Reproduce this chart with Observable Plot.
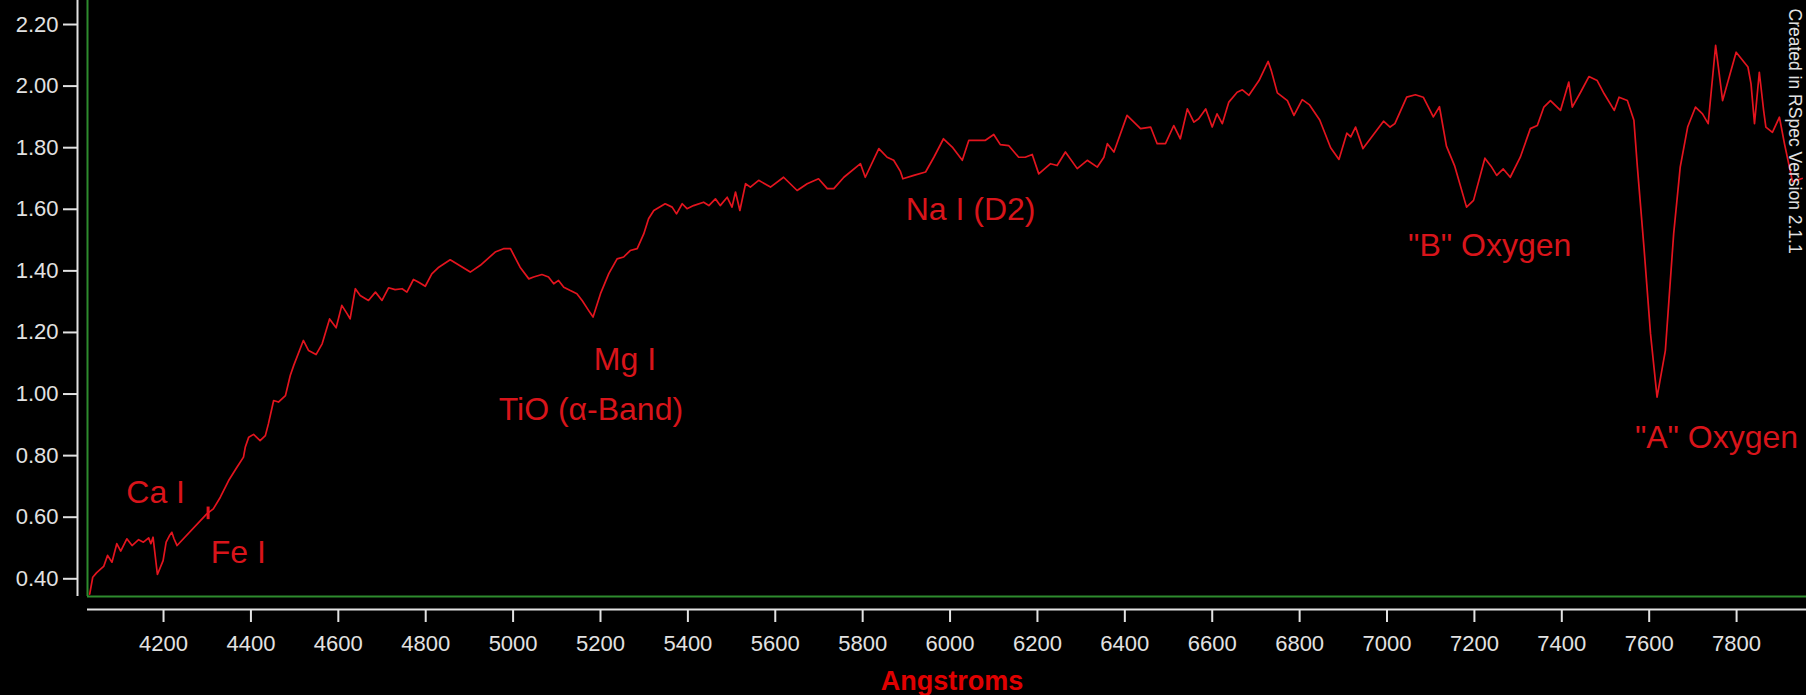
<!DOCTYPE html>
<html>
<head>
<meta charset="utf-8">
<script src="https://cdn.jsdelivr.net/npm/d3@7"></script>
<script src="https://cdn.jsdelivr.net/npm/@observablehq/plot@0.6"></script>
<style>
html, body { margin: 0; padding: 0; background: #000; }
#chart { width: 1806px; height: 695px; overflow: hidden; background: #000; }
</style>
</head>
<body>
<div id="chart"></div>
<script>
// Spectrum: wavelength (Angstroms) and relative flux
const wavelength = [
  4031, 4038, 4047, 4063, 4072, 4082, 4093, 4102, 4116, 4128, 4143, 4154, 4166, 4171, 4176, 4186, 4199, 4206, 4214, 4219, 4224, 4231,
  4299, 4314, 4330, 4349, 4368, 4383, 4387, 4395, 4406, 4421, 4433, 4440, 4452, 4463, 4479, 4490, 4498, 4520, 4532, 4549, 4563, 4580,
  4595, 4608, 4620, 4627, 4639, 4650, 4669, 4685, 4700, 4715, 4730, 4746, 4757, 4772, 4784, 4799, 4814, 4830, 4856, 4902, 4925, 4959,
  4978, 4994, 5016, 5036, 5047, 5066, 5081, 5093, 5104, 5116, 5131, 5146, 5158, 5173, 5183, 5200, 5219, 5238, 5253, 5268, 5284, 5299,
  5310, 5322, 5348, 5364, 5374, 5387, 5398, 5413, 5436, 5448, 5463, 5474, 5490, 5501, 5509, 5519, 5532, 5543, 5562, 5589, 5619, 5650,
  5673, 5699, 5719, 5734, 5757, 5795, 5806, 5837, 5856, 5871, 5886, 5892, 5917, 5944, 5963, 5985, 6005, 6028, 6043, 6081, 6100, 6115,
  6134, 6157, 6172, 6188, 6203, 6230, 6245, 6264, 6291, 6314, 6337, 6352, 6360, 6375, 6405, 6436, 6459, 6474, 6493, 6512, 6527, 6543,
  6558, 6569, 6585, 6600, 6611, 6623, 6638, 6657, 6669, 6684, 6707, 6728, 6735, 6749, 6772, 6787, 6806, 6822, 6846, 6871, 6890, 6908,
  6917, 6928, 6945, 6992, 7007, 7018, 7045, 7065, 7083, 7106, 7120, 7136, 7155, 7182, 7198, 7224, 7238, 7251, 7266, 7282, 7305, 7328,
  7344, 7359, 7374, 7397, 7416, 7424, 7443, 7462, 7481, 7497, 7520, 7531, 7550, 7565, 7573, 7588, 7603, 7618, 7637, 7656, 7671, 7688,
  7706, 7722, 7735, 7752, 7768, 7799, 7826, 7833, 7841, 7852, 7862, 7867, 7882, 7898, 7910, 7928, 7950
];
const flux = [
  0.350, 0.405, 0.420, 0.440, 0.476, 0.454, 0.514, 0.490, 0.530, 0.508, 0.527, 0.519, 0.533, 0.514, 0.535, 0.414, 0.459, 0.519, 0.541, 0.551, 0.530, 0.508,
  0.611, 0.627, 0.665, 0.719, 0.762, 0.795, 0.827, 0.860, 0.869, 0.849, 0.865, 0.903, 0.979, 0.974, 0.995, 1.060, 1.093, 1.174, 1.141, 1.128, 1.163, 1.244,
  1.215, 1.288, 1.261, 1.244, 1.342, 1.320, 1.304, 1.331, 1.304, 1.345, 1.339, 1.342, 1.331, 1.372, 1.363, 1.350, 1.390, 1.412, 1.436, 1.396, 1.418, 1.461,
  1.472, 1.472, 1.412, 1.374, 1.380, 1.388, 1.380, 1.358, 1.369, 1.347, 1.336, 1.326, 1.304, 1.271, 1.250, 1.326, 1.391, 1.439, 1.445, 1.466, 1.472, 1.520,
  1.569, 1.596, 1.618, 1.607, 1.585, 1.618, 1.602, 1.612, 1.623, 1.612, 1.634, 1.612, 1.639, 1.607, 1.656, 1.596, 1.683, 1.672, 1.694, 1.672, 1.704, 1.661,
  1.683, 1.699, 1.667, 1.667, 1.704, 1.748, 1.704, 1.797, 1.769, 1.759, 1.724, 1.699, 1.710, 1.721, 1.769, 1.829, 1.802, 1.759, 1.824, 1.824, 1.843, 1.810,
  1.807, 1.769, 1.769, 1.778, 1.715, 1.748, 1.742, 1.786, 1.732, 1.759, 1.737, 1.769, 1.813, 1.786, 1.905, 1.862, 1.867, 1.813, 1.813, 1.872, 1.829, 1.926,
  1.883, 1.894, 1.926, 1.867, 1.910, 1.878, 1.948, 1.980, 1.988, 1.970, 2.018, 2.080, 2.051, 1.978, 1.953, 1.905, 1.956, 1.940, 1.890, 1.800, 1.762, 1.847,
  1.835, 1.867, 1.797, 1.886, 1.867, 1.878, 1.964, 1.972, 1.964, 1.900, 1.933, 1.805, 1.740, 1.607, 1.629, 1.766, 1.740, 1.710, 1.731, 1.704, 1.769, 1.862,
  1.872, 1.932, 1.953, 1.921, 2.013, 1.932, 1.980, 2.031, 2.018, 1.975, 1.921, 1.964, 1.953, 1.889, 1.737, 1.477, 1.196, 0.990, 1.141, 1.520, 1.737, 1.867,
  1.932, 1.910, 1.878, 2.132, 1.953, 2.110, 2.062, 2.008, 1.878, 2.045, 1.920, 1.867, 1.850, 1.899, 1.810, 1.690, 1.700
];

// Axis ticks
const xTicks = [4200, 4400, 4600, 4800, 5000, 5200, 5400, 5600, 5800, 6000, 6200, 6400, 6600, 6800, 7000, 7200, 7400, 7600, 7800];
const yTicks = [0.40, 0.60, 0.80, 1.00, 1.20, 1.40, 1.60, 1.80, 2.00, 2.20];
const xDomain = [4026, 7960];
const yDomain = [0.3425, 2.278];

// Line identifications (label anchor in data units)
const annotationText = ["Ca I", "Fe I", "Mg I", "TiO (\u03b1-Band)", "Na I (D2)", "\"B\" Oxygen", "\"A\" Oxygen"];
const annotationWave = [4182, 4371, 5256, 5178, 6047, 7235, 7754];
const annotationFlux = [0.679, 0.485, 1.111, 0.948, 1.598, 1.481, 0.857];

// Small marker on the Fe I line
const markerWave = [4302];
const markerFluxLow = [0.592];
const markerFluxHigh = [0.633];

const axisTitle = "Angstroms";
const credit = "Created in RSpec Version 2.1.1";

const spectrum = wavelength.map((w, i) => ({w, f: flux[i]}));
const notes = annotationText.map((t, i) => ({t, w: annotationWave[i], f: annotationFlux[i]}));
const markers = markerWave.map((w, i) => ({w, lo: markerFluxLow[i], hi: markerFluxHigh[i]}));

const RED = "#e3141e";
const TEXT_RED = "#d8141a";
const GREEN = "#2e8b2e";
const WHITE = "#e2e2e2";
const FONT = "'Liberation Sans', Arial, sans-serif";

const chart = Plot.plot({
  width: 1806,
  height: 695,
  marginLeft: 87,
  marginRight: 0,
  marginTop: 0,
  marginBottom: 99,
  style: {background: "#000", color: WHITE, fontFamily: FONT},
  x: {domain: xDomain},
  y: {domain: yDomain},
  marks: [
    // green frame lines (left and bottom)
    Plot.ruleX([xDomain[0]], {stroke: GREEN, strokeWidth: 2}),
    Plot.ruleY([yDomain[0]], {stroke: GREEN, strokeWidth: 2}),
    // offset white axis lines
    Plot.ruleX([xDomain[0]], {dx: -10, stroke: WHITE, strokeWidth: 2}),
    Plot.ruleY([yDomain[0]], {dy: 13, stroke: WHITE, strokeWidth: 2}),
    Plot.axisY({
      ticks: yTicks, tickFormat: d3.format(".2f"), tickSize: 14, tickPadding: 5,
      dx: -10, fontSize: 22, color: WHITE, strokeWidth: 2, label: null
    }),
    Plot.axisX({
      ticks: xTicks, tickFormat: d3.format("d"), tickSize: 13, tickPadding: 13,
      dy: 13, fontSize: 22, color: WHITE, strokeWidth: 2, label: null
    }),
    Plot.line(spectrum, {x: "w", y: "f", stroke: RED, strokeWidth: 1.7}),
    Plot.ruleX(markers, {x: "w", y1: "lo", y2: "hi", stroke: RED, strokeWidth: 3}),
    Plot.text(notes, {
      x: "w", y: "f", text: "t", fill: TEXT_RED, fontSize: 32,
      textAnchor: "middle", lineAnchor: "middle"
    }),
    Plot.text([axisTitle], {
      frameAnchor: "bottom", textAnchor: "middle", lineAnchor: "middle",
      dx: 5, dy: 85, fill: "#e00000", fontSize: 27, fontWeight: "bold"
    }),
    Plot.text([credit], {
      frameAnchor: "top-right", rotate: 90, textAnchor: "start", lineAnchor: "middle",
      dx: -12, dy: 8, fill: WHITE, fontSize: 17.5
    })
  ]
});

document.getElementById("chart").appendChild(chart);
</script>
</body>
</html>
